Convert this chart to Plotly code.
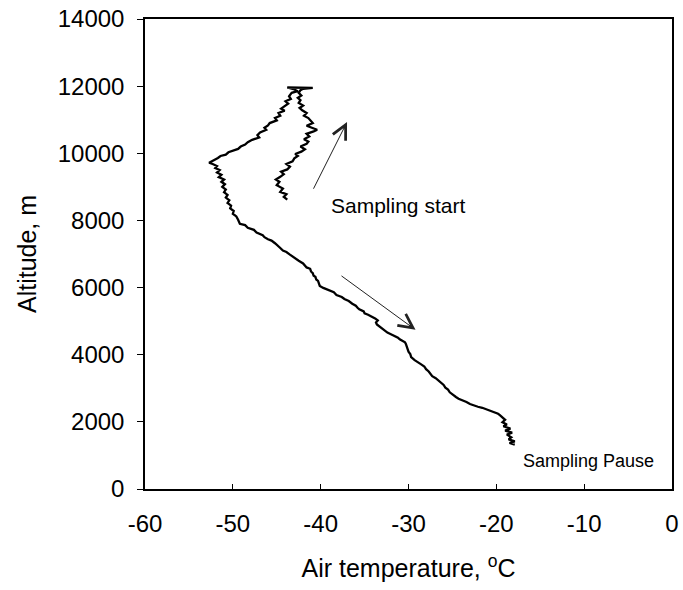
import plotly.graph_objects as go

# Ascending branch (sampling start)
temp_up = [-43.8, -44.2, -43.9, -44.6, -44.3, -45.0, -44.7, -45.1, -44.6, -44.2,
           -44.5, -43.8, -43.5, -43.9, -43.2, -43.0, -42.6, -42.9, -42.2, -41.8,
           -42.3, -41.6, -41.4, -41.9, -41.3, -41.6, -40.8, -40.4, -41.0, -41.6,
           -40.9, -41.2, -41.4, -41.9, -41.6, -42.1, -42.4, -42.0, -42.5, -42.3,
           -42.6, -42.2, -42.5, -42.3, -42.0]
alt_up = [8620, 8700, 8780, 8850, 8950, 9050, 9150, 9220, 9300, 9380,
          9450, 9520, 9600, 9680, 9760, 9850, 9920, 9980, 10050, 10120,
          10200, 10280, 10350, 10420, 10500, 10580, 10650, 10700, 10760, 10820,
          10900, 10980, 11050, 11120, 11200, 11280, 11350, 11420, 11500, 11580,
          11650, 11720, 11800, 11880, 11920]

# Level segment at the top
temp_top = [-40.9, -43.8, -43.0, -42.6, -43.3]
alt_top = [11950, 11960, 11900, 11850, 11800]

# Descent
temp_down = [-43.6, -43.4, -44.0, -43.7, -44.2, -44.5, -44.1, -44.8, -44.6, -45.2,
             -45.0, -45.8, -46.0, -46.4, -46.2, -46.9, -47.2, -47.0, -47.8, -48.3,
             -48.6, -49.1, -49.4, -50.0, -50.5, -50.8, -51.4, -51.7, -52.2, -52.7,
             -52.3, -51.8, -52.0, -51.5, -51.8, -51.3, -51.6, -51.0, -51.3, -50.9,
             -51.2, -50.8, -51.0, -50.6, -50.8, -50.4, -50.6, -50.2, -50.3, -49.9,
             -50.0, -49.6, -49.4, -49.2, -48.6, -48.3, -47.6, -47.3, -46.6, -46.4,
             -46.0, -45.6, -45.2, -44.9, -44.6, -44.3, -43.9, -43.5, -43.2, -42.8,
             -42.5, -42.0, -41.8, -41.6, -41.2, -41.1, -40.9, -40.8, -40.6, -40.5,
             -40.3, -40.1, -39.7, -39.4, -39.0, -38.5, -38.2, -37.6, -37.3, -36.8,
             -36.4, -36.0, -35.8, -35.6, -35.1, -35.0, -34.6, -34.2, -33.8, -33.5,
             -33.7, -33.6, -33.2, -32.8, -32.4, -32.0, -31.5, -31.2, -31.0, -30.6,
             -30.4, -30.3, -30.1, -30.0, -29.8, -29.7, -29.3, -29.0, -28.6, -28.2,
             -28.0, -27.7, -27.5, -27.3, -26.9, -26.6, -26.3, -26.0, -25.8, -25.5,
             -25.3, -25.0, -24.6, -24.3, -23.8, -23.4, -23.0, -22.6, -22.1, -21.6,
             -21.2, -20.8, -20.4, -20.2, -19.8, -19.6, -19.4, -19.2, -19.0, -19.3,
             -18.8, -19.2, -18.4, -19.0, -18.2, -18.8, -18.3, -18.6, -17.9, -18.5,
             -17.9]
alt_down = [11700, 11620, 11550, 11480, 11400, 11330, 11270, 11200, 11120, 11050,
            10980, 10900, 10830, 10760, 10700, 10620, 10540, 10470, 10400, 10330,
            10260, 10200, 10130, 10080, 10030, 9960, 9920, 9860, 9800, 9720,
            9680, 9620, 9560, 9500, 9430, 9360, 9290, 9220, 9150, 9080,
            9000, 8920, 8840, 8760, 8680, 8600, 8520, 8440, 8360, 8280,
            8200, 8120, 8020, 7900, 7860, 7780, 7720, 7640, 7560, 7500,
            7440, 7400, 7320, 7260, 7180, 7100, 7060, 6980, 6920, 6860,
            6800, 6720, 6650, 6600, 6560, 6480, 6430, 6350, 6320, 6240,
            6200, 6050, 5990, 5960, 5900, 5860, 5780, 5720, 5660, 5600,
            5520, 5460, 5400, 5350, 5290, 5230, 5190, 5140, 5080, 5020,
            4960, 4900, 4820, 4740, 4660, 4610, 4560, 4510, 4460, 4410,
            4370, 4320, 4150, 4090, 4020, 3930, 3840, 3780, 3720, 3650,
            3570, 3500, 3420, 3360, 3300, 3240, 3180, 3100, 3020, 2960,
            2880, 2810, 2740, 2690, 2640, 2590, 2530, 2490, 2450, 2420,
            2380, 2340, 2310, 2280, 2240, 2200, 2160, 2110, 2060, 1990,
            1920, 1870, 1800, 1740, 1680, 1620, 1540, 1480, 1420, 1370,
            1320]

x_ticks = [-60, -50, -40, -30, -20, -10, 0]
x_tick_labels = ["-60", "-50", "-40", "-30", "-20", "-10", "0"]
y_ticks = [0, 2000, 4000, 6000, 8000, 10000, 12000, 14000]
y_tick_labels = ["0", "2000", "4000", "6000", "8000", "10000", "12000", "14000"]

temps = temp_up + temp_top + temp_down
alts = alt_up + alt_top + alt_down

font_family = "Liberation Sans, Arial, sans-serif"

fig = go.Figure()
fig.add_trace(go.Scatter(x=temps, y=alts, mode="lines",
                         line=dict(color="black", width=2.3), showlegend=False))

fig.add_annotation(x=-37.0, y=10930, ax=-40.9, ay=8900, xref="x", yref="y",
                   axref="x", ayref="y", showarrow=True, arrowhead=5,
                   arrowsize=2.8, arrowwidth=1, arrowcolor="#222", text="")
fig.add_annotation(x=-29.2, y=4740, ax=-37.8, ay=6380, xref="x", yref="y",
                   axref="x", ayref="y", showarrow=True, arrowhead=5,
                   arrowsize=2.8, arrowwidth=1, arrowcolor="#222", text="")
fig.add_annotation(x=-31.2, y=8440, text="Sampling start", showarrow=False,
                   font=dict(size=21, color="black", family=font_family))
fig.add_annotation(x=-9.5, y=820, text="Sampling Pause", showarrow=False,
                   font=dict(size=18, color="black", family=font_family))

fig.update_layout(
    width=683, height=590,
    margin=dict(l=145, r=11, t=19, b=101),
    paper_bgcolor="white", plot_bgcolor="white",
    font=dict(family=font_family, color="black"),
)
fig.update_xaxes(range=[-60, 0], tickvals=x_ticks, ticktext=x_tick_labels,
                 ticks="inside", ticklen=5, tickcolor="black",
                 showline=True, linecolor="black", linewidth=1.5,
                 mirror=True, showgrid=False, zeroline=False, automargin=False,
                 tickfont=dict(size=24), ticklabelstandoff=12,
                 title=dict(text="Air temperature, <sup>o</sup>C", font=dict(size=25), standoff=24))
fig.update_yaxes(range=[0, 14000], tickvals=y_ticks, ticktext=y_tick_labels,
                 ticks="outside", ticklen=6, tickcolor="black",
                 showline=True, linecolor="black", linewidth=1.5,
                 mirror=True, showgrid=False, zeroline=False, automargin=False,
                 tickfont=dict(size=24), ticklabelstandoff=8,
                 title=dict(text="Altitude, m", font=dict(size=25), standoff=14))

fig.write_html("out.html", config={"displayModeBar": False},
               post_script="document.body.style.margin='0';document.body.style.overflow='hidden';")
